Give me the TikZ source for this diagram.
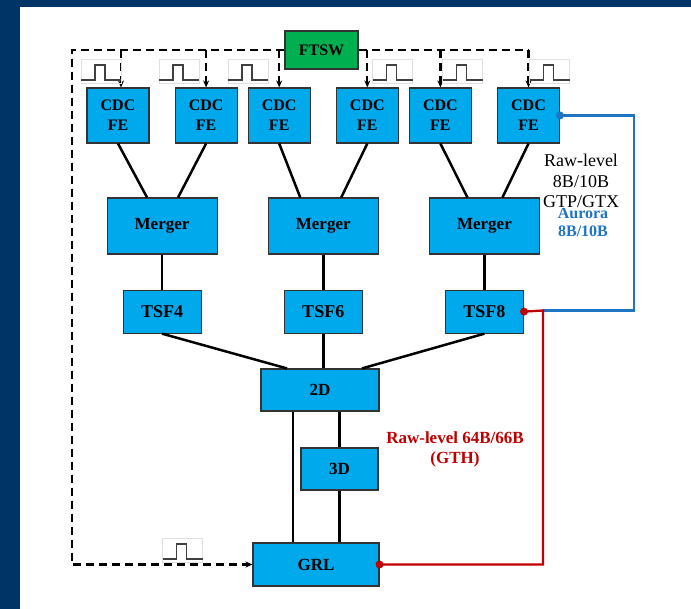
\documentclass[tikz,border=0pt]{standalone}
\usepackage{fontspec}
\setmainfont{Liberation Serif}
\usetikzlibrary{arrows.meta,positioning,calc}
\definecolor{FrameBlue}{HTML}{003366}
\definecolor{BoxBlue}{HTML}{00A8EC}
\definecolor{SwGreen}{HTML}{00B050}
\definecolor{LinkBlue}{HTML}{1F74C4}
\definecolor{LinkRed}{HTML}{C00000}
\tikzset{clkpulse/.pic={
  \draw[black!12,line width=0.8pt] (-20,-12) rectangle (20,12);
  \draw[black!75,line width=1.4pt] (-20,9) -- (-6,9) -- (-6,-6) -- (4,-6) -- (4,9) -- (20,9);
}}

\begin{document}
\begin{tikzpicture}[x=1pt,y=-1pt,
blk/.style={draw=black!80,line width=1.1pt,fill=BoxBlue,align=center,inner sep=0pt,font=\fontsize{17}{20}\selectfont\bfseries},
fe/.style={blk,minimum width=62pt,minimum height=55pt,font=\fontsize{16}{20}\selectfont\bfseries},
mrg/.style={blk,minimum width=110pt,minimum height=56pt,font=\fontsize{17}{20}\selectfont\bfseries},
tsf/.style={blk,minimum width=78pt,minimum height=43pt,font=\fontsize{18}{20}\selectfont\bfseries},
wire/.style={line width=2.5pt},
trig/.style={line width=2.2pt,dash pattern=on 8pt off 5pt},
trigarr/.style={trig,-{Stealth[length=7pt,width=6pt]}},
link/.style={line width=2.3pt}]
\useasboundingbox (0,0) rectangle (691,609);
\fill[white] (0,0) rectangle (691,609);
\fill[FrameBlue] (0,0) rectangle (691,7);
\fill[FrameBlue] (0,0) rectangle (20,609);

\node[blk,fill=SwGreen,minimum width=73pt,minimum height=38pt,font=\fontsize{16}{18}\selectfont\bfseries] (ftsw) at (321.5,50) {FTSW};

% front-end boards
\node[fe] (fe1) at (118,115.5) {CDC\\FE};
\node[fe,right=25pt of fe1] (fe2) {CDC\\FE};
\node[fe,right=10pt of fe2] (fe3) {CDC\\FE};
\node[fe,right=25pt of fe3] (fe4) {CDC\\FE};
\node[fe,right=10pt of fe4] (fe5) {CDC\\FE};
\node[fe,right=25pt of fe5] (fe6) {CDC\\FE};

% mergers and track segment finders
\node[mrg] (m1) at ($(fe1)!0.5!(fe2)+(0,110.5)$) {\raisebox{-4pt}{Merger}};
\node[mrg] (m2) at ($(fe3)!0.5!(fe4)+(0,110.5)$) {\raisebox{-4pt}{Merger}};
\node[mrg] (m3) at ($(fe5)!0.5!(fe6)+(0,110.5)$) {\raisebox{-4pt}{Merger}};
\node[tsf,below=35pt of m1] (t4) {TSF4};
\node[tsf,below=35pt of m2] (t6) {TSF6};
\node[tsf,below=35pt of m3] (t8) {TSF8};

\node[blk,minimum width=118pt,minimum height=42pt] (d2) at (320,390) {2D};
\node[blk,minimum width=77pt,minimum height=42pt] (d3) at ($(d2)+(19.5,79)$) {3D};
\node[blk,minimum width=126pt,minimum height=43pt] (grl) at (316,564.5) {GRL};

\draw[wire] (fe1.south) -- ([xshift=-15pt]m1.north);
\draw[wire] (fe2.south) -- ([xshift=16pt]m1.north);
\draw[wire] (fe3.south) -- ([xshift=-23pt]m2.north);
\draw[wire] (fe4.south) -- ([xshift=18pt]m2.north);
\draw[wire] (fe5.south) -- ([xshift=-17pt]m3.north);
\draw[wire] (fe6.south) -- ([xshift=18pt]m3.north);
\draw[wire] (m1.south) -- (t4.north);
\draw[wire] (m2.south) -- (t6.north);
\draw[wire] (m3.south) -- (t8.north);
\draw[wire] (t4.south) -- ([xshift=-33pt]d2.north);
\draw[wire] (t6.south) -- (t6.south |- d2.north);
\draw[wire] (t8.south) -- ([xshift=42pt]d2.north);
\draw[wire] ([xshift=-27pt]d2.south) -- ([xshift=-27pt]d2.south |- grl.north);
\draw[wire] (d3.north |- d2.south) -- (d3.north);
\draw[wire] (d3.south) -- (d3.south |- grl.north);

% trigger distribution
\coordinate (lc) at (72,50);
\draw[trigarr] (ftsw.west) -- (lc) |- (grl.west);
\draw[trig] (ftsw.east) -- (fe6.north |- ftsw.east);
\draw[trigarr] ([xshift=3pt]fe1.north |- ftsw.west) -- ([xshift=3pt]fe1.north);
\draw[trigarr] (fe2.north |- ftsw.west) -- (fe2.north);
\draw[trigarr] (fe3.north |- ftsw.west) -- (fe3.north);
\draw[trigarr] (fe4.north |- ftsw.west) -- (fe4.north);
\draw[trigarr] (fe5.north |- ftsw.west) -- (fe5.north);
\draw[trigarr] (fe6.north |- ftsw.west) -- (fe6.north);
\pic at (101,71) {clkpulse};
\pic at (179,71) {clkpulse};
\pic at (248,71) {clkpulse};
\pic at (392.5,71) {clkpulse};
\pic at (462.5,71) {clkpulse};
\pic at (549.5,71) {clkpulse};
\pic at (182.5,550) {clkpulse};

% raw-level links
\coordinate (jn) at (543,310.5);
\draw[link,LinkBlue] (fe6.east) -- ++(74,0) |- (jn);
\draw[link,LinkRed] (t8.east) -- (jn) |- (grl.east);
\fill[LinkBlue] (fe6.east) circle (4pt);
\fill[LinkRed] (t8.east) circle (4pt);
\fill[LinkRed] (grl.east) circle (4pt);

\node[font=\fontsize{16}{18}\selectfont\bfseries,text=LinkBlue,align=center] (aurora) at (583,222) {Aurora\\8B/10B};
\node[font=\fontsize{18}{20.5}\selectfont,fill=white,inner sep=0.5pt,align=center] (raw) at (581,181) {Raw-level\\8B/10B\\GTP/GTX};
\node[font=\fontsize{17}{20}\selectfont\bfseries,text=LinkRed,align=center] (gth) at (455,449) {Raw-level 64B/66B\\(GTH)};
\end{tikzpicture}
\end{document}
